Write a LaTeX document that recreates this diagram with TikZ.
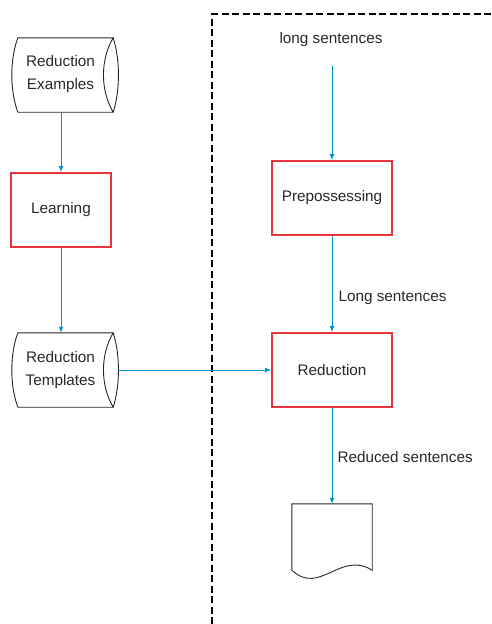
\documentclass[tikz,border=0pt]{standalone}
\usepackage{fontspec}
\setmainfont{Liberation Sans}
\usetikzlibrary{arrows.meta}

\definecolor{flowblue}{RGB}{0,146,208}
\definecolor{boxred}{RGB}{232,52,60}
\definecolor{inkgray}{RGB}{40,40,40}

\tikzset{
  txt/.style={font=\fontsize{15.3}{22.5}\selectfont, text=inkgray, align=center, inner sep=0pt},
  procbox/.style={draw=boxred, line width=1.8pt, fill=white, minimum width=#1, minimum height=74pt, inner sep=0pt,
                  font=\fontsize{15.3}{22.5}\selectfont, text=inkgray},
  procbox/.default=100pt,
  storebox/.style={minimum width=95pt, minimum height=74pt, inner sep=0pt},
  outline/.style={draw=black!85, line width=0.9pt},
  flow/.style={draw=flowblue, line width=1pt, -{Latex[length=6pt,width=5pt]}},
  boundary/.style={draw=black, line width=1.6pt, dash pattern=on 7pt off 3.5pt}
}

\begin{document}
\begin{tikzpicture}[x=1pt,y=-1pt]
  \useasboundingbox (0,0) rectangle (491,624);

  % dashed system boundary
  \coordinate (bndBottom) at (212,624);
  \coordinate (bndCorner) at (212,14);
  \coordinate (bndRight) at (491,14);
  \draw[boundary] (bndBottom) -- (bndCorner) -- (bndRight);

  % stored data: reduction examples
  \node[storebox] (ex) at (65.5,75) {};
  \draw[outline] (ex.north west) .. controls +(-8,22) and +(-8,-22) .. (ex.south west)
      -- (ex.south east) .. controls +(-13,-22) and +(-13,22) .. (ex.north east) -- cycle;
  \draw[outline] (ex.north east) .. controls +(7,22) and +(7,-22) .. (ex.south east);
  \node[txt] (exText) at (60.5,74) {Reduction\\Examples};

  % learning step
  \node[procbox=100pt] (learn) at (61,210) {Learning};

  % stored data: reduction templates
  \node[storebox] (tpl) at (65.5,370) {};
  \draw[outline] (tpl.north west) .. controls +(-8,22) and +(-8,-22) .. (tpl.south west)
      -- (tpl.south east) .. controls +(-13,-22) and +(-13,22) .. (tpl.north east) -- cycle;
  \draw[outline] (tpl.north east) .. controls +(7,22) and +(7,-22) .. (tpl.south east);
  \node[txt] (tplText) at (60.5,370) {Reduction\\Templates};

  % input text
  \node[txt] (input) at (331,40) {long sentences};
  \coordinate (inTail) at (332,66);

  % processing steps
  \node[procbox=120pt] (prep) at (332,198) {Prepossessing};
  \node[procbox=120pt] (red) at (332,370) {Reduction};

  % output document
  \node[minimum width=80pt, minimum height=66pt, inner sep=0pt] (doc) at (332,537) {};
  \draw[outline] (doc.south west) -- (doc.north west) -- (doc.north east) -- (doc.south east)
      .. controls +(-32,-20) and +(28,26) .. (doc.south west);

  % connectors
  \draw[flow] (learn.north |- ex.south) -- (learn.north);
  \draw[flow] (learn.south) -- (learn.south |- tpl.north);
  \draw[flow] ([xshift=5pt]tpl.east) -- (red.west);
  \draw[flow] (inTail) -- (prep.north);
  \draw[flow] (prep.south) -- node[txt, anchor=west, xshift=6pt, yshift=-14pt] (lblLong) {Long sentences} (red.north);
  \draw[flow] (red.south) -- node[txt, anchor=west, xshift=5pt, yshift=-1pt] (lblRed) {Reduced sentences} (doc.north);
\end{tikzpicture}
\end{document}
